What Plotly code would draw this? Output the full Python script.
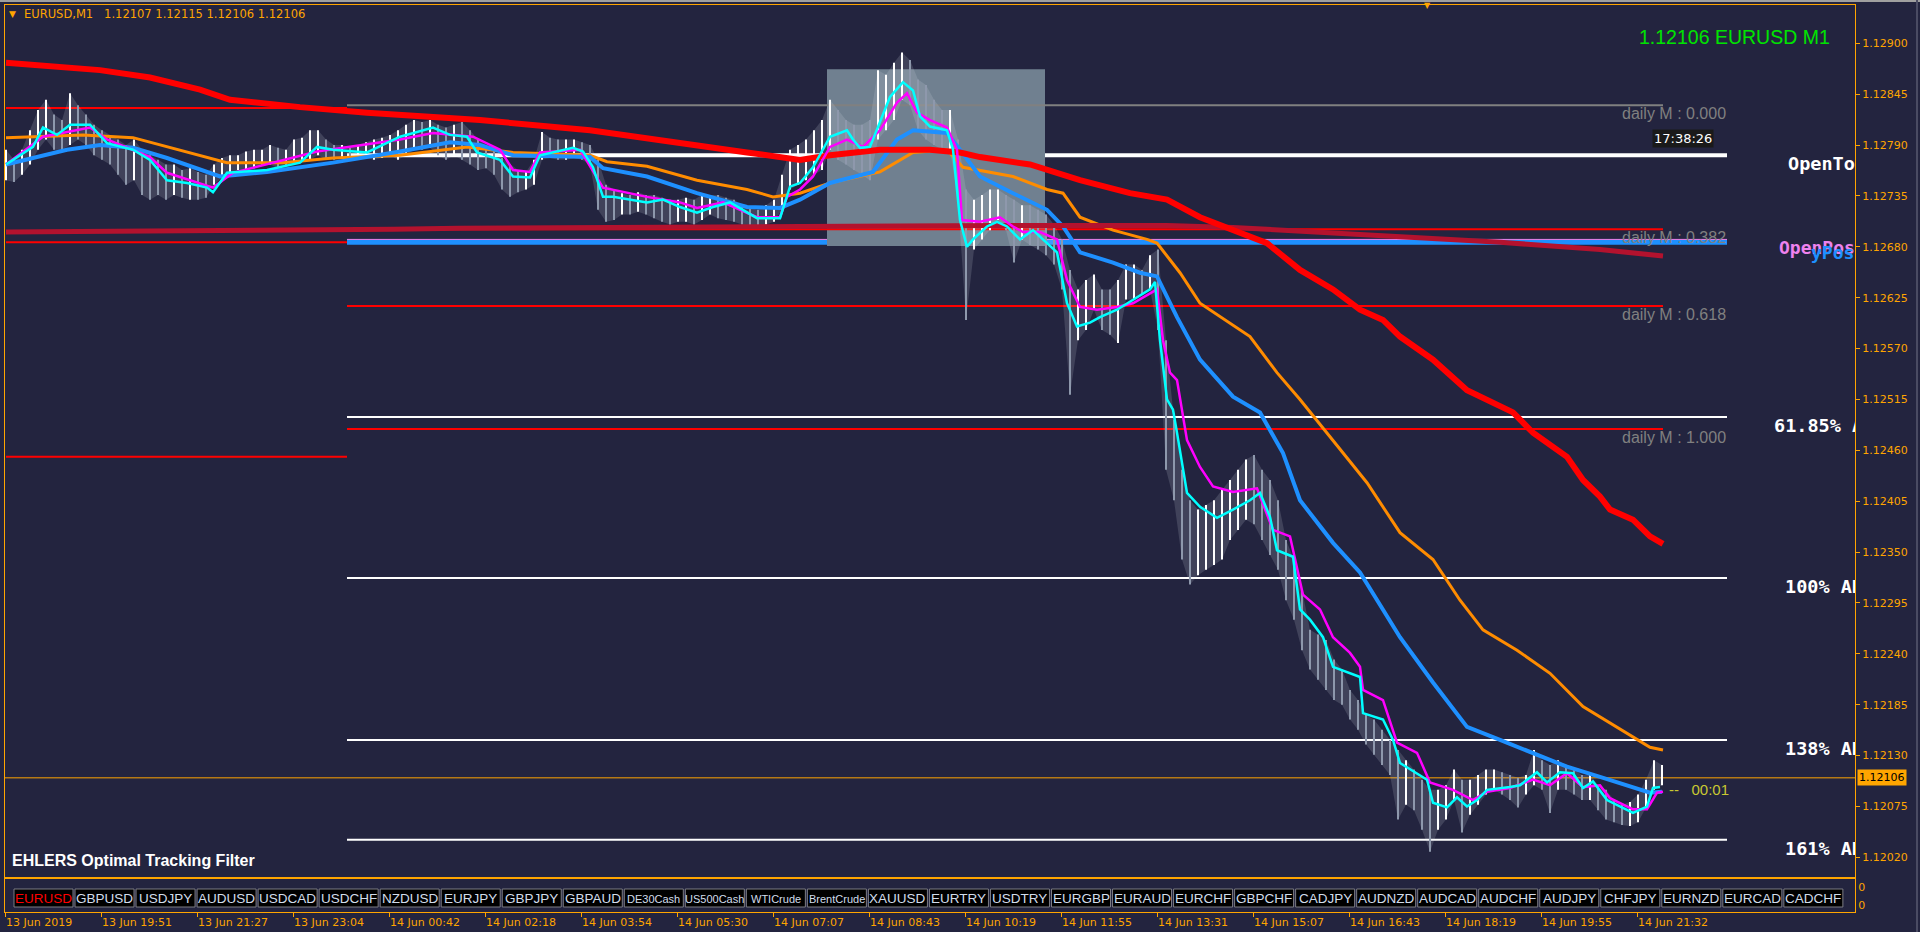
import plotly.graph_objects as go

W, H = 1920, 932
BG = "#23243F"
AXIS = "#FFA500"

# ---------------------------------------------------------------------------
# data (EURUSD M1, one bar per pixel)
# ---------------------------------------------------------------------------
SYMBOL = "EURUSD"
HEADER_OHLC = [1.12107, 1.12115, 1.12106, 1.12106]
LAST_PRICE = 1.12106

# price samples: high / low of every 8th bar
BAR_STEP = 8
HIGH = [
    1.12785, 1.12774, 1.12785, 1.12806, 1.12828, 1.12839, 1.12823, 1.12817, 1.12846, 1.12833,
    1.12823, 1.12812, 1.12806, 1.12801, 1.12796, 1.12790, 1.12796, 1.12785, 1.12779, 1.12774,
    1.12769, 1.12769, 1.12763, 1.12765, 1.12761, 1.12758, 1.12769, 1.12776, 1.12779, 1.12779,
    1.12783, 1.12785, 1.12785, 1.12790, 1.12787, 1.12785, 1.12796, 1.12798, 1.12806, 1.12806,
    1.12796, 1.12790, 1.12790, 1.12787, 1.12790, 1.12793, 1.12796, 1.12798, 1.12801, 1.12806,
    1.12812, 1.12817, 1.12815, 1.12817, 1.12812, 1.12809, 1.12812, 1.12815, 1.12806, 1.12796,
    1.12790, 1.12785, 1.12776, 1.12769, 1.12763, 1.12761, 1.12774, 1.12804, 1.12798, 1.12796,
    1.12796, 1.12796, 1.12793, 1.12790, 1.12774, 1.12747, 1.12742, 1.12738, 1.12736, 1.12739,
    1.12736, 1.12736, 1.12733, 1.12731, 1.12731, 1.12733, 1.12731, 1.12736, 1.12736, 1.12736,
    1.12733, 1.12731, 1.12725, 1.12722, 1.12720, 1.12725, 1.12731, 1.12758, 1.12785, 1.12790,
    1.12796, 1.12806, 1.12817, 1.12839, 1.12828, 1.12817, 1.12812, 1.12812, 1.12817, 1.12871,
    1.12866, 1.12879, 1.12890, 1.12882, 1.12861, 1.12855, 1.12839, 1.12828, 1.12828, 1.12796,
    1.12742, 1.12731, 1.12736, 1.12742, 1.12742, 1.12736, 1.12731, 1.12725, 1.12725, 1.12720,
    1.12715, 1.12704, 1.12688, 1.12655, 1.12634, 1.12644, 1.12650, 1.12634, 1.12634, 1.12644,
    1.12661, 1.12661, 1.12655, 1.12671, 1.12677, 1.12579, 1.12493, 1.12439, 1.12406, 1.12396,
    1.12401, 1.12406, 1.12417, 1.12428, 1.12439, 1.12450, 1.12455, 1.12439, 1.12428, 1.12406,
    1.12363, 1.12342, 1.12309, 1.12266, 1.12261, 1.12255, 1.12234, 1.12223, 1.12201, 1.12190,
    1.12174, 1.12169, 1.12158, 1.12147, 1.12136, 1.12125, 1.12115, 1.12104, 1.12093, 1.12093,
    1.12098, 1.12115, 1.12104, 1.12104, 1.12109, 1.12115, 1.12115, 1.12112, 1.12109, 1.12106,
    1.12109, 1.12136, 1.12125, 1.12120, 1.12125, 1.12120, 1.12115, 1.12109, 1.12109, 1.12098,
    1.12093, 1.12082, 1.12077, 1.12080, 1.12088, 1.12104, 1.12125, 1.12120,
]
LOW = [
    1.12752, 1.12750, 1.12758, 1.12769, 1.12785, 1.12796, 1.12785, 1.12785, 1.12790, 1.12796,
    1.12790, 1.12779, 1.12774, 1.12769, 1.12758, 1.12747, 1.12752, 1.12736, 1.12731, 1.12736,
    1.12731, 1.12736, 1.12733, 1.12731, 1.12731, 1.12733, 1.12747, 1.12755, 1.12758, 1.12763,
    1.12763, 1.12765, 1.12769, 1.12769, 1.12765, 1.12769, 1.12769, 1.12772, 1.12774, 1.12779,
    1.12774, 1.12774, 1.12776, 1.12774, 1.12776, 1.12776, 1.12774, 1.12776, 1.12779, 1.12774,
    1.12779, 1.12785, 1.12785, 1.12787, 1.12779, 1.12774, 1.12779, 1.12774, 1.12769, 1.12763,
    1.12765, 1.12758, 1.12742, 1.12734, 1.12739, 1.12742, 1.12747, 1.12774, 1.12776, 1.12774,
    1.12774, 1.12776, 1.12774, 1.12769, 1.12720, 1.12707, 1.12709, 1.12715, 1.12715, 1.12718,
    1.12715, 1.12711, 1.12707, 1.12704, 1.12707, 1.12707, 1.12704, 1.12709, 1.12715, 1.12711,
    1.12709, 1.12707, 1.12704, 1.12701, 1.12701, 1.12704, 1.12707, 1.12720, 1.12742, 1.12747,
    1.12752, 1.12758, 1.12763, 1.12785, 1.12774, 1.12769, 1.12763, 1.12758, 1.12752, 1.12796,
    1.12806, 1.12817, 1.12839, 1.12833, 1.12806, 1.12796, 1.12790, 1.12785, 1.12785, 1.12731,
    1.12601, 1.12677, 1.12688, 1.12698, 1.12709, 1.12698, 1.12663, 1.12688, 1.12682, 1.12677,
    1.12671, 1.12661, 1.12634, 1.12520, 1.12579, 1.12590, 1.12612, 1.12590, 1.12585, 1.12576,
    1.12623, 1.12623, 1.12628, 1.12634, 1.12590, 1.12439, 1.12406, 1.12342, 1.12315, 1.12325,
    1.12331, 1.12336, 1.12342, 1.12363, 1.12374, 1.12385, 1.12380, 1.12363, 1.12347, 1.12331,
    1.12298, 1.12277, 1.12244, 1.12223, 1.12212, 1.12201, 1.12190, 1.12185, 1.12169, 1.12158,
    1.12142, 1.12131, 1.12120, 1.12109, 1.12061, 1.12077, 1.12071, 1.12050, 1.12026, 1.12050,
    1.12061, 1.12082, 1.12047, 1.12066, 1.12077, 1.12088, 1.12093, 1.12088, 1.12082, 1.12074,
    1.12088, 1.12098, 1.12093, 1.12068, 1.12093, 1.12093, 1.12088, 1.12082, 1.12082, 1.12071,
    1.12061, 1.12058, 1.12055, 1.12054, 1.12058, 1.12074, 1.12093, 1.12098,
]

# indicator lines: bar index -> value
CYAN_BAR = [0, 27, 37, 51, 64, 84, 101, 127, 144, 161, 181, 201, 207, 221, 261, 294, 311, 327,
            361, 394, 427, 444, 461, 471, 494, 507, 524, 534, 567, 577, 587, 597, 607, 641, 657,
            674, 691, 707, 724, 741, 751, 774, 784, 794, 807, 824, 841, 847, 854, 864, 874, 884,
            897, 907, 914, 924, 941, 947, 954, 961, 967, 981, 991, 1001, 1014, 1027, 1041, 1051,
            1061, 1071, 1084, 1094, 1111, 1127, 1144, 1149, 1154, 1161, 1167, 1171, 1181, 1194,
            1211, 1227, 1244, 1254, 1264, 1271, 1287, 1294, 1304, 1317, 1327, 1354, 1357, 1377,
            1387, 1394, 1411, 1421, 1427, 1441, 1451, 1461, 1471, 1481, 1504, 1514, 1531, 1541,
            1554, 1567, 1577, 1587, 1601, 1627, 1641, 1647, 1654]
CYAN = [1.12769, 1.12788, 1.12809, 1.12801, 1.12812, 1.12812, 1.12792, 1.12785, 1.12774, 1.12752,
        1.12749, 1.12744, 1.12739, 1.12760, 1.12763, 1.12771, 1.12788, 1.12785, 1.12782, 1.12799,
        1.12809, 1.12801, 1.12799, 1.12782, 1.12774, 1.12756, 1.12755, 1.12779, 1.12787, 1.12783,
        1.12766, 1.12734, 1.12734, 1.12728, 1.12731, 1.12723, 1.12717, 1.12723, 1.12728, 1.12717,
        1.12711, 1.12711, 1.12745, 1.12749, 1.12766, 1.12799, 1.12806, 1.12796, 1.12787, 1.12788,
        1.12814, 1.12842, 1.12858, 1.12849, 1.12821, 1.12810, 1.12806, 1.12785, 1.12709, 1.12680,
        1.12688, 1.12702, 1.12707, 1.12702, 1.12688, 1.12698, 1.12684, 1.12674, 1.12619, 1.12594,
        1.12598, 1.12604, 1.12612, 1.12623, 1.12634, 1.12642, 1.12579, 1.12515, 1.12504, 1.12479,
        1.12414, 1.12399, 1.12387, 1.12396, 1.12406, 1.12414, 1.12388, 1.12352, 1.12345, 1.12288,
        1.12277, 1.12258, 1.12226, 1.12215, 1.12176, 1.12169, 1.12147, 1.12122, 1.12111, 1.12104,
        1.12079, 1.12074, 1.12085, 1.12075, 1.12082, 1.12093, 1.12096, 1.12098, 1.12112, 1.12101,
        1.12112, 1.12111, 1.12095, 1.12102, 1.12082, 1.12068, 1.12075, 1.12095, 1.12096]

MAGENTA_BAR = [0, 37, 84, 101, 144, 161, 207, 227, 311, 394, 427, 467, 494, 507, 524, 534, 574,
               597, 641, 674, 691, 717, 751, 774, 781, 794, 807, 824, 841, 857, 874, 891, 901,
               911, 924, 941, 951, 956, 974, 994, 1007, 1017, 1034, 1051, 1061, 1074, 1091, 1111,
               1127, 1144, 1151, 1157, 1164, 1171, 1181, 1194, 1207, 1227, 1251, 1267, 1284, 1297,
               1314, 1327, 1344, 1354, 1357, 1377, 1391, 1411, 1424, 1447, 1467, 1481, 1504, 1527,
               1544, 1561, 1577, 1594, 1604, 1627, 1641, 1651, 1657]
MAGENTA = [1.12769, 1.12799, 1.12809, 1.12796, 1.12777, 1.12760, 1.12744, 1.12760, 1.12783, 1.12796,
           1.12803, 1.12799, 1.12785, 1.12763, 1.12761, 1.12782, 1.12785, 1.12744, 1.12734, 1.12728,
           1.12722, 1.12728, 1.12712, 1.12712, 1.12734, 1.12742, 1.12756, 1.12788, 1.12796, 1.12788,
           1.12806, 1.12836, 1.12846, 1.12825, 1.12817, 1.12809, 1.12785, 1.12709, 1.12707, 1.12712,
           1.12702, 1.12696, 1.12696, 1.12688, 1.12644, 1.12615, 1.12612, 1.12615, 1.12619, 1.12630,
           1.12634, 1.12579, 1.12544, 1.12536, 1.12471, 1.12442, 1.12421, 1.12415, 1.12419, 1.12374,
           1.12367, 1.12304, 1.12288, 1.12258, 1.12241, 1.12226, 1.12201, 1.12190, 1.12144, 1.12133,
           1.12101, 1.12093, 1.12082, 1.12091, 1.12095, 1.12104, 1.12098, 1.12111, 1.12096, 1.12098,
           1.12084, 1.12072, 1.12072, 1.12090, 1.12091]

BLUE_BAR = [0, 61, 94, 127, 161, 214, 261, 327, 394, 444, 474, 507, 584, 597, 641, 691, 741, 774,
            794, 824, 867, 891, 907, 941, 954, 974, 1007, 1041, 1057, 1074, 1107, 1134, 1151, 1171,
            1194, 1227, 1254, 1277, 1294, 1327, 1354, 1371, 1394, 1427, 1461, 1494, 1527, 1561,
            1594, 1627, 1644, 1656]
BLUE = [1.12769, 1.12785, 1.12790, 1.12787, 1.12776, 1.12756, 1.12761, 1.12771, 1.12783, 1.12793,
        1.12790, 1.12779, 1.12777, 1.12765, 1.12756, 1.12738, 1.12723, 1.12722, 1.12731, 1.12749,
        1.12761, 1.12796, 1.12806, 1.12803, 1.12785, 1.12756, 1.12738, 1.12720, 1.12702, 1.12674,
        1.12663, 1.12652, 1.12648, 1.12604, 1.12558, 1.12518, 1.12501, 1.12457, 1.12406, 1.12360,
        1.12328, 1.12298, 1.12258, 1.12209, 1.12161, 1.12147, 1.12133, 1.12118, 1.12107, 1.12096,
        1.12090, 1.12091]

ORANGE_BAR = [0, 77, 127, 161, 221, 277, 327, 394, 461, 507, 584, 601, 641, 691, 741, 767, 794,
              824, 874, 907, 941, 957, 1007, 1041, 1057, 1074, 1107, 1141, 1151, 1174, 1194, 1244,
              1271, 1294, 1327, 1361, 1394, 1427, 1454, 1477, 1511, 1544, 1577, 1611, 1644, 1657]
ORANGE = [1.12798, 1.12801, 1.12798, 1.12788, 1.12771, 1.12771, 1.12776, 1.12779, 1.12788, 1.12782,
          1.12779, 1.12772, 1.12767, 1.12752, 1.12742, 1.12734, 1.12738, 1.12749, 1.12761, 1.12782,
          1.12785, 1.12766, 1.12756, 1.12742, 1.12738, 1.12712, 1.12698, 1.12688, 1.12684, 1.12652,
          1.12619, 1.12583, 1.12544, 1.12515, 1.12471, 1.12425, 1.12371, 1.12342, 1.12298, 1.12266,
          1.12244, 1.12219, 1.12183, 1.12161, 1.12139, 1.12136]

RED_BAR = [0, 44, 94, 144, 194, 224, 294, 361, 427, 474, 584, 674, 741, 794, 824, 874, 924, 954,
           974, 1024, 1074, 1124, 1161, 1194, 1227, 1261, 1294, 1327, 1354, 1377, 1394, 1427, 1461,
           1507, 1527, 1561, 1577, 1594, 1604, 1627, 1644, 1657]
RED = [1.12879, 1.12875, 1.12871, 1.12863, 1.12850, 1.12839, 1.12831, 1.12825, 1.12821, 1.12817,
       1.12806, 1.12793, 1.12782, 1.12774, 1.12779, 1.12785, 1.12785, 1.12782, 1.12777, 1.12769,
       1.12752, 1.12738, 1.12731, 1.12712, 1.12698, 1.12684, 1.12655, 1.12634, 1.12612, 1.12601,
       1.12583, 1.12558, 1.12525, 1.12501, 1.12479, 1.12453, 1.12428, 1.12410, 1.12396, 1.12385,
       1.12367, 1.12359]

CRIMSON_BAR = [0, 173, 300, 387, 453, 564, 794, 994, 1161, 1227, 1327, 1427, 1494, 1594, 1657]
CRIMSON = [1.12696, 1.12697, 1.12698, 1.12699, 1.12700, 1.12701, 1.12702, 1.12703, 1.12703,
           1.12701, 1.12695, 1.12690, 1.12685, 1.12677, 1.12670]

# horizontal levels
ADR_LEVELS = [1.12779, 1.12496, 1.12322, 1.12147, 1.12039]
ADR_TEXT = ["OpenToday", "61.85% ADR", "100% ADR", "138% ADR", "161% ADR"]
OPENPOS_LEVEL = 1.12685
OPENPOS_TOP = 1.12688
FIB_LEVELS = [1.12833, 1.12699, 1.12616, 1.12483]
FIB_TEXT = ["daily M : 0.000", "daily M : 0.382", "daily M : 0.618", "daily M : 1.000"]
PREV_LEVELS = [1.12830, 1.12685, 1.12453]
LEVEL_SPLIT_BAR = 341
FIB_END_BAR = 1657
ADR_END_BAR = 1721

# highlighted session box
BOX_BARS = [821, 1039]
BOX_PRICES = [1.12681, 1.12872]

Y_TICKS = [1.12020, 1.12075, 1.12130, 1.12185, 1.12240, 1.12295, 1.12350, 1.12405, 1.12460,
           1.12515, 1.12570, 1.12625, 1.12680, 1.12735, 1.12790, 1.12845, 1.12900]
X_TICK_BARS = [-1, 95, 191, 287, 383, 479, 575, 671, 767, 863, 959, 1055, 1151, 1247, 1343,
               1439, 1535, 1631]
X_TICK_LABELS = ["13 Jun 2019", "13 Jun 19:51", "13 Jun 21:27", "13 Jun 23:04", "14 Jun 00:42",
                 "14 Jun 02:18", "14 Jun 03:54", "14 Jun 05:30", "14 Jun 07:07", "14 Jun 08:43",
                 "14 Jun 10:19", "14 Jun 11:55", "14 Jun 13:31", "14 Jun 15:07", "14 Jun 16:43",
                 "14 Jun 18:19", "14 Jun 19:55", "14 Jun 21:32"]

TABS = ["EURUSD", "GBPUSD", "USDJPY", "AUDUSD", "USDCAD", "USDCHF", "NZDUSD", "EURJPY", "GBPJPY",
        "GBPAUD", "DE30Cash", "US500Cash", "WTICrude", "BrentCrude", "XAUUSD", "EURTRY", "USDTRY",
        "EURGBP", "EURAUD", "EURCHF", "GBPCHF", "CADJPY", "AUDNZD", "AUDCAD", "AUDCHF", "AUDJPY",
        "CHFJPY", "EURNZD", "EURCAD", "CADCHF"]

# ---------------------------------------------------------------------------
X_RANGE = [-1, 1849]
Y_RANGE = [1.119988, 1.129414]


def px(x):
    return x / W


def py(y):
    return 1 - y / H


def note(text, x, y, size, color, family="Liberation Sans", xanchor="left",
         yanchor="middle", **kw):
    return dict(text=text, x=px(x), y=py(y), xref="paper", yref="paper",
                showarrow=False, xanchor=xanchor, yanchor=yanchor,
                font=dict(family=family, size=size, color=color), **kw)


fig = go.Figure()

bars = list(range(0, BAR_STEP * len(HIGH), BAR_STEP))

# faint high/low envelope behind the bars
fig.add_trace(go.Scatter(x=bars, y=LOW, mode="lines", line=dict(width=0)))
fig.add_trace(go.Scatter(x=bars, y=HIGH, mode="lines", line=dict(width=0),
                         fill="tonexty", fillcolor="rgba(220,225,235,0.16)"))

# price bars, white when the bar mid rises, grey when it falls
up_x, up_y, dn_x, dn_y = [], [], [], []
prev = None
for b, hi, lo in zip(bars, HIGH, LOW):
    mid = (hi + lo) / 2
    if prev is None or mid >= prev:
        up_x += [b, b, None]
        up_y += [lo, hi, None]
    else:
        dn_x += [b, b, None]
        dn_y += [lo, hi, None]
    prev = mid

fig.add_trace(go.Scatter(x=dn_x, y=dn_y, mode="lines",
                         line=dict(color="#8E98AC", width=2)))
fig.add_trace(go.Scatter(x=up_x, y=up_y, mode="lines",
                         line=dict(color="#FFFFFF", width=2)))

indicators = [
    (ORANGE_BAR, ORANGE, "#FF8C00", 3),
    (BLUE_BAR, BLUE, "#1E90FF", 4),
    (CRIMSON_BAR, CRIMSON, "#B3122E", 5),
    (RED_BAR, RED, "#FF0000", 6),
    (MAGENTA_BAR, MAGENTA, "#FF00FF", 2.5),
    (CYAN_BAR, CYAN, "#00FFFF", 2.5),
]
for xs, ys, color, width in indicators:
    fig.add_trace(go.Scatter(x=xs, y=ys, mode="lines",
                             line=dict(color=color, width=width)))

# labels sitting on the right edge, clipped by the chart window
fig.add_trace(go.Scatter(
    x=[1782, 1768, 1779, 1779, 1779],
    y=[p - 0.00011 for p in ADR_LEVELS],
    mode="text", text=ADR_TEXT, textposition="middle right", cliponaxis=True,
    textfont=dict(family="DejaVu Sans Mono", size=18.5, color="#FFFFFF", weight="bold")))
fig.add_trace(go.Scatter(
    x=[1773], y=[OPENPOS_LEVEL - 0.00008], mode="text", text=["OpenPos"],
    textposition="middle right", cliponaxis=True,
    textfont=dict(family="DejaVu Sans Mono", size=18, color="#EE82EE", weight="bold")))
fig.add_trace(go.Scatter(
    x=[1805], y=[OPENPOS_LEVEL - 0.00013], mode="text", text=["yPos"],
    textposition="middle right", cliponaxis=True,
    textfont=dict(family="DejaVu Sans Mono", size=18, color="#1E90FF", weight="bold")))

# empty trace so the tab sub-window axes exist
fig.add_trace(go.Scatter(x=[0], y=[-1], xaxis="x2", yaxis="y2", mode="markers",
                         marker=dict(opacity=0)))

shapes = []


def level(price, x0, x1, color, width):
    shapes.append(dict(type="line", xref="x", yref="y", x0=x0, x1=x1, y0=price, y1=price,
                       line=dict(color=color, width=width), layer="below"))


level(ADR_LEVELS[0], LEVEL_SPLIT_BAR, ADR_END_BAR, "#FFFFFF", 4)
for p in ADR_LEVELS[1:]:
    level(p, LEVEL_SPLIT_BAR, ADR_END_BAR, "#FFFFFF", 2)
level(OPENPOS_LEVEL, LEVEL_SPLIT_BAR, ADR_END_BAR, "#1E90FF", 5)
level(OPENPOS_TOP, LEVEL_SPLIT_BAR, ADR_END_BAR, "#EE82EE", 1)
shapes.append(dict(type="rect", xref="x", yref="y", x0=BOX_BARS[0], x1=BOX_BARS[1],
                   y0=BOX_PRICES[0], y1=BOX_PRICES[1], fillcolor="#708090",
                   line=dict(width=0), layer="below"))
level(FIB_LEVELS[0], LEVEL_SPLIT_BAR, FIB_END_BAR, "#808080", 2)
for p in FIB_LEVELS[1:]:
    level(p, LEVEL_SPLIT_BAR, FIB_END_BAR, "#FF0000", 2)
for p in PREV_LEVELS:
    level(p, 0, LEVEL_SPLIT_BAR, "#FF0000", 2)
level(LAST_PRICE, X_RANGE[0], X_RANGE[1], AXIS, 1)

# window frame bits
shapes.append(dict(type="rect", xref="paper", yref="paper", x0=0, x1=1, y0=py(2), y1=1,
                   fillcolor="#A0A0A0", line=dict(width=0)))
shapes.append(dict(type="line", xref="paper", yref="paper", x0=px(1917), x1=px(1917),
                   y0=0, y1=1, line=dict(color="#4A4B63", width=2)))

annotations = []

# symbol tabs
for k, name in enumerate(TABS):
    x0 = 14 + 61.03 * k
    shapes.append(dict(type="rect", xref="paper", yref="paper", x0=px(x0), x1=px(x0 + 59),
                       y0=py(907), y1=py(889), fillcolor="#000000",
                       line=dict(color="#7C7C84", width=1)))
    annotations.append(note(name, x0 + 29.5, 898.5, 13.5 if len(name) <= 7 else 11,
                            "#FF0000" if name == SYMBOL else "#D2DDEB", xanchor="center"))

# fibonacci labels
for p, t in zip(FIB_LEVELS, FIB_TEXT):
    annotations.append(dict(text=t, x=1722, y=p, xref="x", yref="y", showarrow=False,
                            xanchor="right", yanchor="top", yshift=2,
                            font=dict(family="Liberation Sans", size=16, color="#808080")))

ohlc = " ".join(f"{v:.5f}" for v in HEADER_OHLC)
annotations += [
    note("\u25BC", 12, 14, 9, AXIS, family="DejaVu Sans", xanchor="center"),
    note(f"{SYMBOL},M1\u00a0\u00a0 {ohlc}", 22, 14, 11.5, AXIS, family="DejaVu Sans"),
    note("\u25BC", 1427, 5, 8, AXIS, family="DejaVu Sans", xanchor="center"),
    note(f"{LAST_PRICE:.5f} {SYMBOL} M1", 1832, 37, 19.5, "#00E400", xanchor="right"),
    note("17:38:26", 1652, 138, 13, "#FFFFFF", family="DejaVu Sans",
         bgcolor="#1A1A1A", borderpad=1),
    note("--\u00a0\u00a0 00:01", 1667, 789, 15, "#C8C832"),
    note(f"{LAST_PRICE:.5f}", 1857, 777, 11, "#000000", family="DejaVu Sans",
         bgcolor=AXIS, borderpad=1),
    note("<b>EHLERS Optimal Tracking Filter</b>", 10, 860, 16, "#FFFFFF"),
]

fig.update_layout(
    width=W, height=H,
    margin=dict(l=0, r=0, t=0, b=0),
    paper_bgcolor=BG, plot_bgcolor=BG,
    showlegend=False, hovermode=False,
    shapes=shapes, annotations=annotations,
    xaxis=dict(domain=[px(5), px(1855)], range=X_RANGE, showgrid=False, zeroline=False,
               showticklabels=False, ticks="", showline=True, mirror=True,
               linecolor=AXIS, linewidth=1),
    yaxis=dict(domain=[py(877), py(5)], range=Y_RANGE, side="right", showgrid=False,
               zeroline=False, tickvals=Y_TICKS, tickformat=".5f", ticks="outside",
               ticklen=4, tickcolor=AXIS, showline=True, mirror=True, linecolor=AXIS,
               linewidth=1, tickfont=dict(family="DejaVu Sans", size=11, color=AXIS)),
    xaxis2=dict(domain=[px(5), px(1855)], range=X_RANGE, anchor="y2", showgrid=False,
                zeroline=False, tickvals=X_TICK_BARS, ticktext=X_TICK_LABELS,
                ticks="outside", ticklen=4, tickcolor=AXIS,
                ticklabelposition="outside right", showline=True, mirror=True,
                linecolor=AXIS, linewidth=1,
                tickfont=dict(family="DejaVu Sans", size=11, color=AXIS)),
    yaxis2=dict(domain=[py(912), py(879)], range=[0, 1], anchor="x2", side="right",
                showgrid=False, zeroline=False, tickvals=[0.22, 0.76], ticktext=["0", "0"],
                ticks="", showline=True, mirror=True, linecolor=AXIS, linewidth=1,
                tickfont=dict(family="DejaVu Sans", size=11, color=AXIS)),
)

# drop the browser's default page margin so the figure fills the window
fig.write_html("out.html", config={"displayModeBar": False},
               post_script="document.body.style.margin='0';"
                           "document.body.style.overflow='hidden';")
